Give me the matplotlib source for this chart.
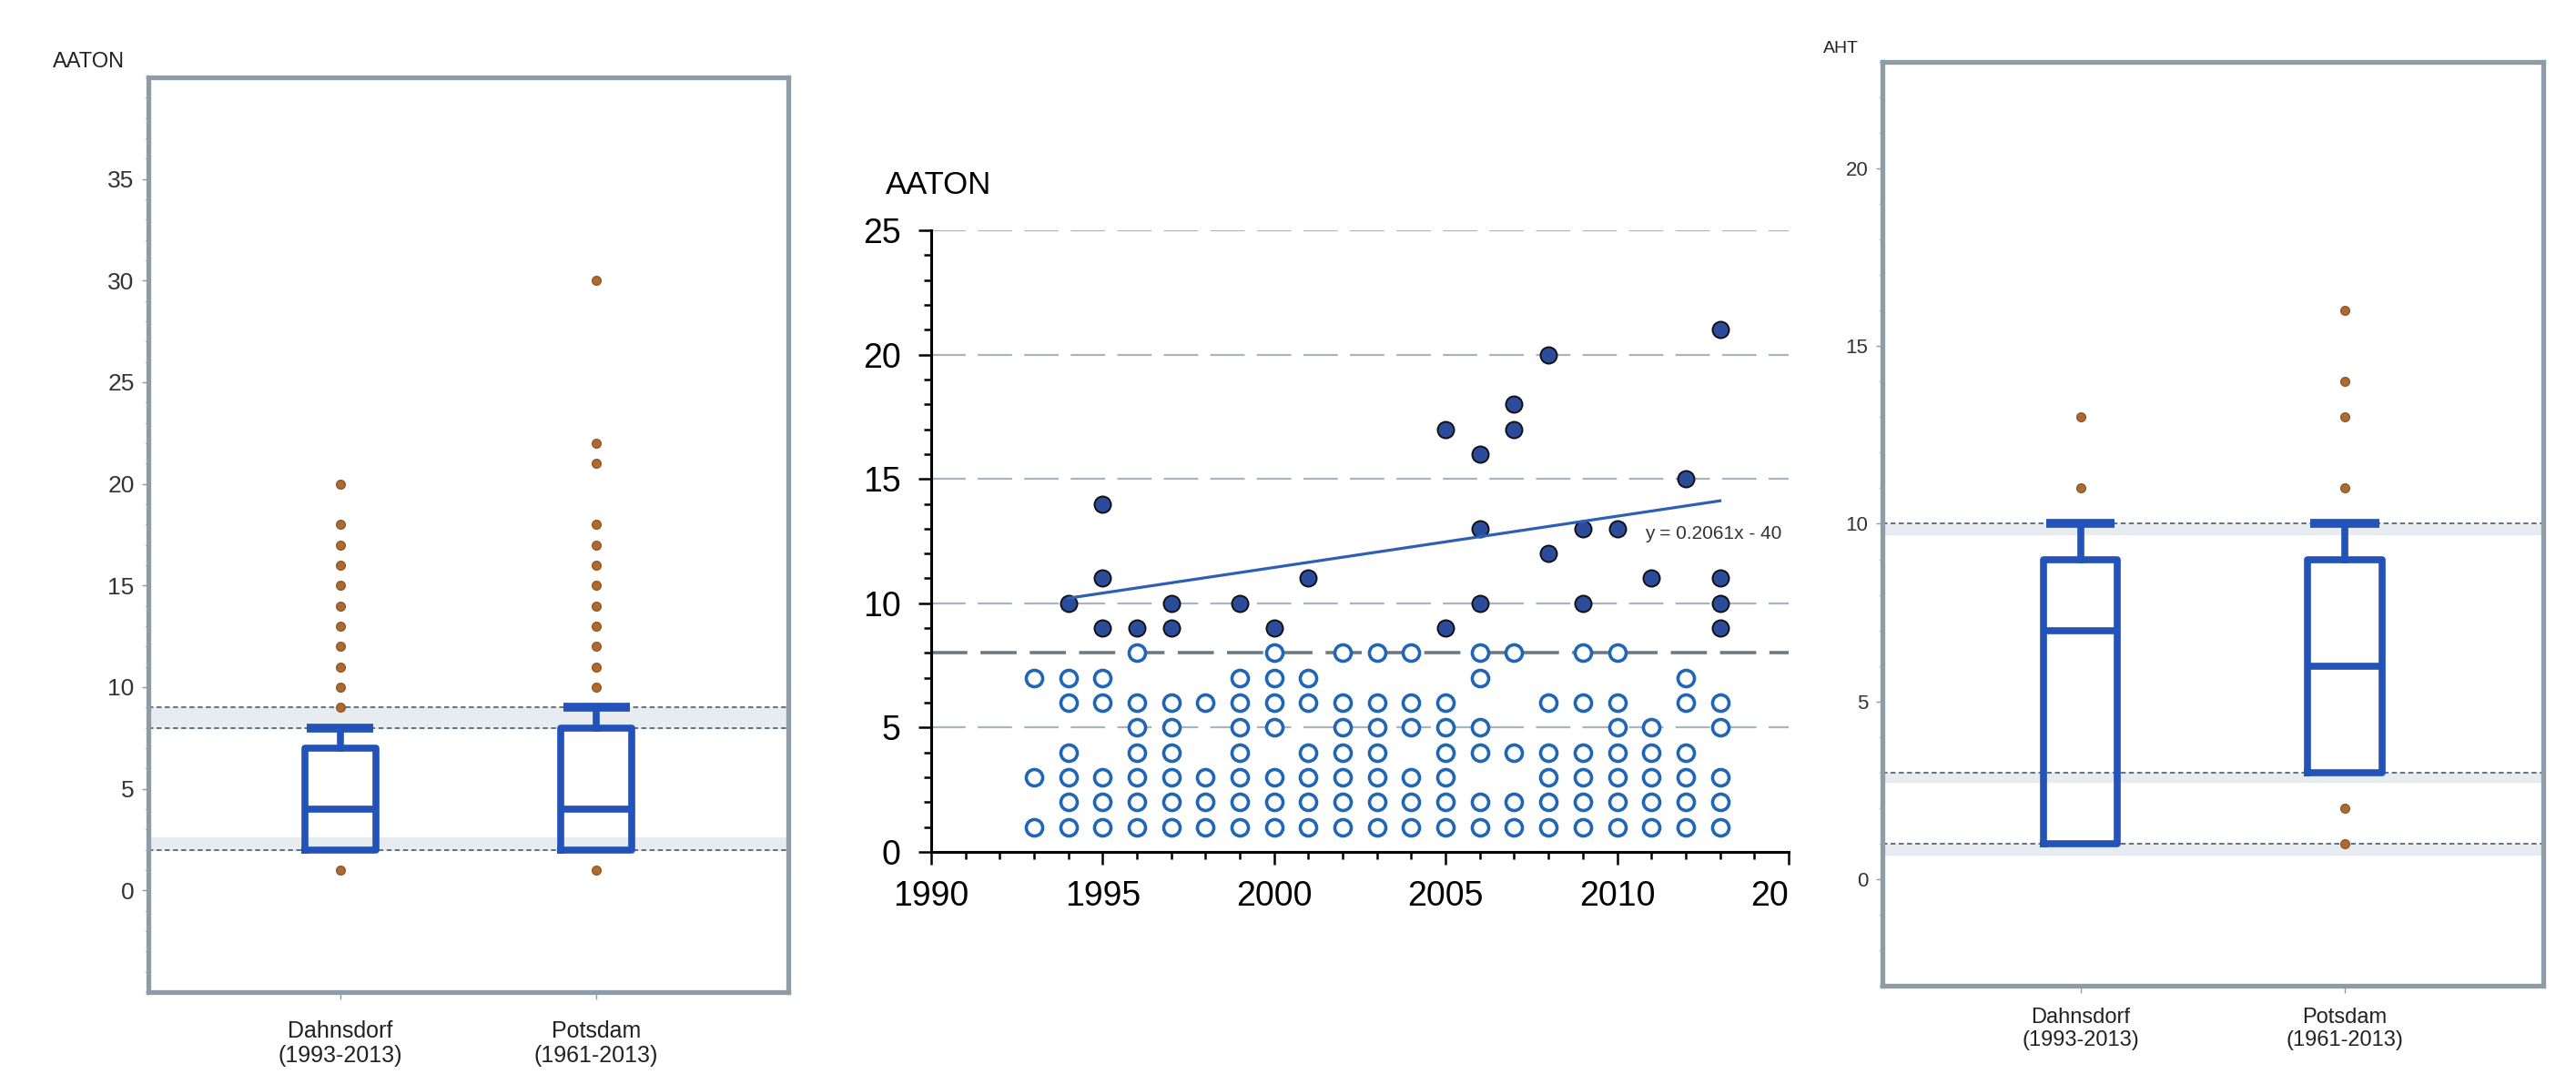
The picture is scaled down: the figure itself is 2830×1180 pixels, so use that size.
import matplotlib.pyplot as plt
from matplotlib.ticker import MultipleLocator
from matplotlib.transforms import Bbox, TransformedBbox

plt.rcParams['font.family'] = ['Liberation Sans', 'DejaVu Sans']

# ---- box panels: station statistics ----
stations = ['Dahnsdorf\n(1993-2013)', 'Potsdam\n(1961-2013)']

aaton_whislo = [2, 2]
aaton_q1 = [2, 2]
aaton_med = [4, 4]
aaton_q3 = [7, 8]
aaton_whishi = [8, 9]
aaton_fliers = [[1, 9, 10, 11, 12, 13, 14, 15, 16, 17, 18, 20],
                [1, 10, 11, 12, 13, 14, 15, 16, 17, 18, 21, 22, 30]]
aaton_ref = [9, 8, 2]
aaton_bands = [(8, 9), (2, 2.6)]

aht_whislo = [1, 3]
aht_q1 = [1, 3]
aht_med = [7, 6]
aht_q3 = [9, 9]
aht_whishi = [10, 10]
aht_fliers = [[11, 13],
              [1, 2, 11, 13, 14, 16]]
aht_ref = [10, 3, 1]
aht_bands = [(9.7, 10), (2.75, 3), (0.7, 1)]

# ---- middle panel: AATON per year ----
years = [1993, 1994, 1995, 1996, 1997, 1998, 1999, 2000, 2001, 2002, 2003,
         2004, 2005, 2006, 2007, 2008, 2009, 2010, 2011, 2012, 2013]
aaton_low = [[1, 3, 7], [1, 2, 3, 4, 6, 7], [1, 2, 3, 6, 7],
             [1, 2, 3, 4, 5, 6, 8], [1, 2, 3, 4, 5, 6], [1, 2, 3, 6],
             [1, 2, 3, 4, 5, 6, 7], [1, 2, 3, 5, 6, 7, 8], [1, 2, 3, 4, 6, 7],
             [1, 2, 3, 4, 5, 6, 8], [1, 2, 3, 4, 5, 6, 8], [1, 2, 3, 5, 6, 8],
             [1, 2, 3, 4, 5, 6], [1, 2, 4, 5, 7, 8], [1, 2, 4, 8],
             [1, 2, 3, 4, 6], [1, 2, 3, 4, 6, 8], [1, 2, 3, 4, 5, 6, 8],
             [1, 2, 3, 4, 5], [1, 2, 3, 4, 6, 7], [1, 2, 3, 5, 6]]
aaton_high = [[], [10], [9, 11, 14], [9], [9, 10], [], [10], [9], [11], [],
              [], [], [9, 17], [10, 13, 16], [17, 18], [12, 20], [10, 13],
              [13], [11], [15], [9, 10, 11, 21]]
threshold = 8
trend_slope = 0.2061
trend_intercept = -400.76
trend_years = [1994, 2013]

BLUE = '#2352b8'
DOT = '#b06a30'
FRAME = '#8d9ca6'

fig = plt.figure(figsize=(28.3, 11.8), dpi=100)
fig.patch.set_facecolor('white')


def box_panel(ax, whislo, q1, med, q3, whishi, fliers, refs, bands,
              ylim, yticks, ylabel, label_x, fs, xfs, xpad):
    stats = []
    for i in range(len(stations)):
        stats.append(dict(whislo=whislo[i], q1=q1[i], med=med[i], q3=q3[i],
                          whishi=whishi[i], fliers=fliers[i]))
    for lo, hi in bands:
        ax.axhspan(lo, hi, color='#e6ecf0', zorder=0)
    for r in refs:
        ax.axhline(r, color='#55697a', lw=1.3, linestyle=(0, (3, 2)), zorder=1)
    res = ax.bxp(stats, positions=[1, 2], widths=0.28, capwidths=0.26,
                 boxprops=dict(color=BLUE, linewidth=5.5),
                 whiskerprops=dict(color=BLUE, linewidth=5.5),
                 capprops=dict(color=BLUE, linewidth=7, solid_capstyle='butt'),
                 medianprops=dict(color=BLUE, linewidth=5.5),
                 flierprops=dict(marker='o', markerfacecolor=DOT,
                                 markeredgecolor='#8f5a2c', markersize=7,
                                 linestyle='none'),
                 manage_ticks=False, zorder=3)
    for cap in res['caps'][0::2]:
        cap.set_visible(False)
    ax.set_xlim(0.25, 2.75)
    ax.set_ylim(*ylim)
    ax.set_yticks(yticks)
    ax.yaxis.set_minor_locator(MultipleLocator(1))
    ax.set_xticks([1, 2])
    ax.set_xticklabels(stations, fontsize=xfs, color='#222222')
    ax.tick_params(axis='y', labelsize=fs, labelcolor='#333333', color=FRAME,
                   length=5, width=1, pad=6)
    ax.tick_params(axis='y', which='minor', color='#c5ced4', length=3, width=1)
    ax.tick_params(axis='x', color=FRAME, length=6, width=1, pad=xpad)
    for s in ax.spines.values():
        s.set_color(FRAME)
        s.set_linewidth(3.8)
    ax.text(label_x, 1.006, ylabel, transform=ax.transAxes, fontsize=fs - 2,
            ha='left', va='bottom', color='#222222')


ax1 = fig.add_axes([0.0576, 0.0763, 0.2484, 0.8517])
box_panel(ax1, aaton_whislo, aaton_q1, aaton_med, aaton_q3, aaton_whishi,
          aaton_fliers, aaton_ref, aaton_bands, (-5, 40),
          [0, 5, 10, 15, 20, 25, 30, 35], 'AATON', -0.149, 19, 18, 16)

ax3 = fig.add_axes([0.7307, 0.0822, 0.2565, 0.8602])
box_panel(ax3, aht_whislo, aht_q1, aht_med, aht_q3, aht_whishi,
          aht_fliers, aht_ref, aht_bands, (-3, 23),
          [0, 5, 10, 15, 20], 'AHT', -0.089, 16, 17, 11)

# ---- middle scatter panel ----
ax2 = fig.add_axes([0.3615, 0.2068, 0.3328, 0.5788])
for g in [5, 10, 15, 20, 25]:
    ax2.axhline(g, color='#a9b4bb', lw=1.6, linestyle=(0, (17, 6)), zorder=1)
ax2.axhline(threshold, color='#6d7a82', lw=2.6, linestyle=(0, (11, 4)), zorder=1)

low_x, low_y, high_x, high_y = [], [], [], []
for yr, lows, highs in zip(years, aaton_low, aaton_high):
    for v in lows:
        low_x.append(yr)
        low_y.append(v)
    for v in highs:
        high_x.append(yr)
        high_y.append(v)

ax2.plot(low_x, low_y, 'o', markersize=13, markerfacecolor='white',
         markeredgecolor='#2166b5', markeredgewidth=2.6, zorder=3)
ax2.plot(high_x, high_y, 'o', markersize=13, markerfacecolor='#2b4b9b',
         markeredgecolor='#111111', markeredgewidth=1.4, zorder=3)
trend_y = [trend_slope * x + trend_intercept for x in trend_years]
ax2.plot(trend_years, trend_y, color='#2e5eb5', lw=2.3, zorder=4)
ax2.text(2010.8, 12.8, 'y = 0.2061x - 40', fontsize=15, color='#333333',
         ha='left', va='center', zorder=5)

ax2.set_xlim(1990, 2015)
ax2.set_ylim(0, 25)
ax2.set_xticks([1990, 1995, 2000, 2005, 2010, 2015])
ax2.set_yticks([0, 5, 10, 15, 20, 25])
ax2.xaxis.set_minor_locator(MultipleLocator(1))
ax2.yaxis.set_minor_locator(MultipleLocator(1))
ax2.tick_params(which='major', length=10, width=1.8, labelsize=27, color='black')
ax2.tick_params(which='minor', length=6, width=1.8, color='black')
ax2.tick_params(axis='x', pad=12)
ax2.tick_params(axis='y', pad=14)
for side in ['top', 'right']:
    ax2.spines[side].set_visible(False)
for side in ['left', 'bottom']:
    ax2.spines[side].set_linewidth(2.2)
ax2.set_facecolor('none')

cut = TransformedBbox(Bbox([[0.30, 0.0], [0.6946, 1.0]]), fig.transFigure)
for lab in ax2.get_xticklabels():
    lab.set_clip_box(cut)
    lab.set_clip_on(True)

fig.text(0.3438, 0.8195, 'AATON', fontsize=25, ha='left', va='baseline')

fig.savefig('out.png', dpi=100, facecolor='white')
